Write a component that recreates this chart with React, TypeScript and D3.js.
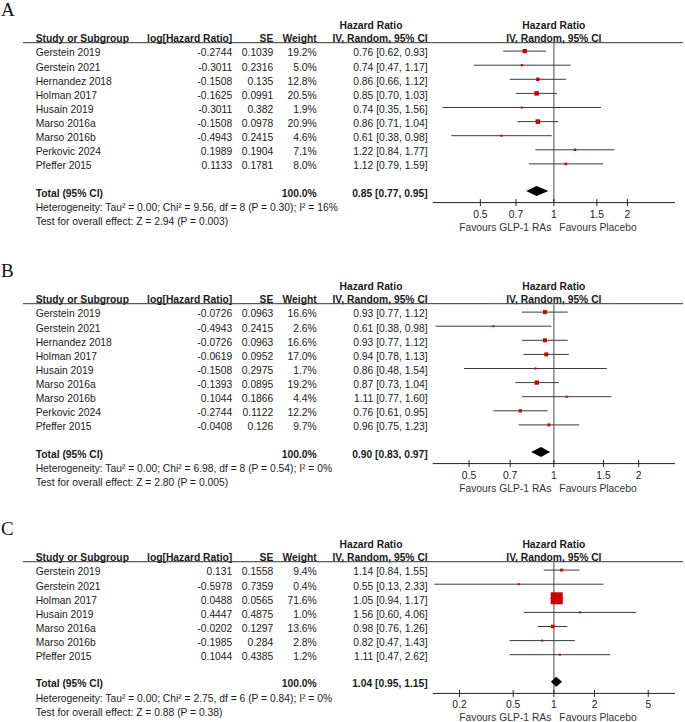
import React from "react";
import * as d3 from "d3";

// ---------- DATA ----------
const studiesA = ["Gerstein 2019", "Gerstein 2021", "Hernandez 2018", "Holman 2017", "Husain 2019", "Marso 2016a", "Marso 2016b", "Perkovic 2024", "Pfeffer 2015"];
const logHRA = [-0.2744, -0.3011, -0.1508, -0.1625, -0.3011, -0.1508, -0.4943, 0.1989, 0.1133];
const seA = [0.1039, 0.2316, 0.135, 0.0991, 0.382, 0.0978, 0.2415, 0.1904, 0.1781];
const weightA = [19.2, 5.0, 12.8, 20.5, 1.9, 20.9, 4.6, 7.1, 8.0];
const hrA = [0.76, 0.74, 0.86, 0.85, 0.74, 0.86, 0.61, 1.22, 1.12];
const loA = [0.62, 0.47, 0.66, 0.70, 0.35, 0.71, 0.38, 0.84, 0.79];
const hiA = [0.93, 1.17, 1.12, 1.03, 1.56, 1.04, 0.98, 1.77, 1.59];
const totalA = [0.85, 0.77, 0.95];
const hetA = "Heterogeneity: Tau² = 0.00; Chi² = 9.56, df = 8 (P = 0.30); I² = 16%";
const testA = "Test for overall effect: Z = 2.94 (P = 0.003)";
const ticksA = [0.5, 0.7, 1, 1.5, 2];
const domainA = [0.319, 3.135];

const studiesB = ["Gerstein 2019", "Gerstein 2021", "Hernandez 2018", "Holman 2017", "Husain 2019", "Marso 2016a", "Marso 2016b", "Perkovic 2024", "Pfeffer 2015"];
const logHRB = [-0.0726, -0.4943, -0.0726, -0.0619, -0.1508, -0.1393, 0.1044, -0.2744, -0.0408];
const seB = [0.0963, 0.2415, 0.0963, 0.0952, 0.2975, 0.0895, 0.1866, 0.1122, 0.126];
const weightB = [16.6, 2.6, 16.6, 17.0, 1.7, 19.2, 4.4, 12.2, 9.7];
const hrB = [0.93, 0.61, 0.93, 0.94, 0.86, 0.87, 1.11, 0.76, 0.96];
const loB = [0.77, 0.38, 0.77, 0.78, 0.48, 0.73, 0.77, 0.61, 0.75];
const hiB = [1.12, 0.98, 1.12, 1.13, 1.54, 1.04, 1.60, 0.95, 1.23];
const totalB = [0.90, 0.83, 0.97];
const hetB = "Heterogeneity: Tau² = 0.00; Chi² = 6.98, df = 8 (P = 0.54); I² = 0%";
const testB = "Test for overall effect: Z = 2.80 (P = 0.005)";
const ticksB = [0.5, 0.7, 1, 1.5, 2];
const domainB = [0.3716, 2.691];

const studiesC = ["Gerstein 2019", "Gerstein 2021", "Holman 2017", "Husain 2019", "Marso 2016a", "Marso 2016b", "Pfeffer 2015"];
const logHRC = [0.131, -0.5978, 0.0488, 0.4447, -0.0202, -0.1985, 0.1044];
const seC = [0.1558, 0.7359, 0.0565, 0.4875, 0.1297, 0.284, 0.4385];
const weightC = [9.4, 0.4, 71.6, 1.0, 13.6, 2.8, 1.2];
const hrC = [1.14, 0.55, 1.05, 1.56, 0.98, 0.82, 1.11];
const loC = [0.84, 0.13, 0.94, 0.60, 0.76, 0.47, 0.47];
const hiC = [1.55, 2.33, 1.17, 4.06, 1.26, 1.43, 2.62];
const totalC = [1.04, 0.95, 1.15];
const hetC = "Heterogeneity: Tau² = 0.00; Chi² = 2.75, df = 6 (P = 0.84); I² = 0%";
const testC = "Test for overall effect: Z = 0.88 (P = 0.38)";
const ticksC = [0.2, 0.5, 1, 2, 5];
const domainC = [0.1267, 7.89];

const panelLabels = ["A", "B", "C"];

// ---------- LAYOUT ----------
const W = 685;
const H = 722;
const FONT = "'Liberation Sans', Arial, Helvetica, sans-serif";
const FS = 10.3;
const TXT = "#1a1a1a";
const panelTops = [0, 261, 519];

const xStudy = 35.7;
const xLog = 232.3;
const xSE = 273.3;
const xWeight = 316.7;
const xCI = 427.7;
const xHRHead = 371;
const plotLeft = 432.7;
const plotRight = 675;

const panels = [
  { label: panelLabels[0], studies: studiesA, logHR: logHRA, se: seA, weight: weightA, hr: hrA, lo: loA, hi: hiA, total: totalA, het: hetA, test: testA, ticks: ticksA, domain: domainA },
  { label: panelLabels[1], studies: studiesB, logHR: logHRB, se: seB, weight: weightB, hr: hrB, lo: loB, hi: hiB, total: totalB, het: hetB, test: testB, ticks: ticksB, domain: domainB },
  { label: panelLabels[2], studies: studiesC, logHR: logHRC, se: seC, weight: weightC, hr: hrC, lo: loC, hi: hiC, total: totalC, het: hetC, test: testC, ticks: ticksC, domain: domainC },
];

function Panel({ p, top }: { p: any; top: number }) {
  const x = d3.scaleLog().domain(p.domain).range([plotLeft, plotRight]).clamp(true);
  const headLineY = top + 42.7;
  const rowC = (i: number) => top + 52.7 + 14.1 * i;
  const n = p.studies.length;
  const totalC = rowC(n - 1) + 27.3;
  const axisY = totalC + 9.8;
  const x1 = x(1);
  const base = (c: number) => c + 3.7;
  const sq = (w: number) => Math.max(2, 1.5 + 0.147 * w);
  const tf = (v: number) => v.toFixed(2);
  const ciText = (h: number, l: number, u: number) => `${tf(h)} [${tf(l)}, ${tf(u)}]`;
  const [th, tl, tu] = p.total;
  const dy = totalC - 1.8;

  return (
    <g>
      <text x={1} y={top + 15.5} fontFamily="'Liberation Serif', 'Times New Roman', serif" fontSize={19} fill="#111">{p.label}</text>
      {/* top headers */}
      <text x={xHRHead} y={top + 28.7} textAnchor="middle" fontWeight="bold" fontSize={FS} fill={TXT}>Hazard Ratio</text>
      <text x={x1} y={top + 28.7} textAnchor="middle" fontWeight="bold" fontSize={FS} fill={TXT}>Hazard Ratio</text>
      <g fontWeight="bold" fontSize={FS} fill={TXT}>
        <text x={xStudy} y={top + 41.8}>Study or Subgroup</text>
        <text x={xLog} y={top + 41.8} textAnchor="end">log[Hazard Ratio]</text>
        <text x={xSE} y={top + 41.8} textAnchor="end">SE</text>
        <text x={xWeight} y={top + 41.8} textAnchor="end">Weight</text>
        <text x={xCI} y={top + 41.8} textAnchor="end">IV, Random, 95% CI</text>
        <text x={x1} y={top + 41.8} textAnchor="middle">IV, Random, 95% CI</text>
      </g>
      <line x1={23} x2={683} y1={headLineY} y2={headLineY} stroke="#333" strokeWidth={1} />
      {/* reference line */}
      <line x1={x1} x2={x1} y1={headLineY} y2={axisY} stroke="#8e8e8e" strokeWidth={1.6} />
      {/* rows */}
      {p.studies.map((s: string, i: number) => {
        const c = rowC(i);
        const my = c - 1.6;
        const size = sq(p.weight[i]);
        return (
          <g key={s + i}>
            <g fontSize={FS} fill={TXT}>
              <text x={xStudy} y={base(c)}>{s}</text>
              <text x={xLog} y={base(c)} textAnchor="end">{String(p.logHR[i])}</text>
              <text x={xSE} y={base(c)} textAnchor="end">{String(p.se[i])}</text>
              <text x={xWeight} y={base(c)} textAnchor="end">{p.weight[i].toFixed(1) + "%"}</text>
              <text x={xCI} y={base(c)} textAnchor="end">{ciText(p.hr[i], p.lo[i], p.hi[i])}</text>
            </g>
            <line x1={x(p.lo[i])} x2={x(p.hi[i])} y1={my} y2={my} stroke="#3a3a3a" strokeWidth={1} />
            <rect x={x(Math.exp(p.logHR[i])) - size / 2} y={my - size / 2} width={size} height={size} fill="#cc0000" />
          </g>
        );
      })}
      {/* total */}
      <g fontSize={FS} fill={TXT} fontWeight="bold">
        <text x={xStudy} y={base(totalC)}>Total (95% CI)</text>
        <text x={xWeight} y={base(totalC)} textAnchor="end">100.0%</text>
        <text x={xCI} y={base(totalC)} textAnchor="end">{ciText(th, tl, tu)}</text>
      </g>
      <polygon
        points={`${x(tl)},${dy} ${x(th)},${dy - 5} ${x(tu)},${dy} ${x(th)},${dy + 5}`}
        fill="#000"
      />
      <g fontSize={FS} fill={TXT}>
        <text x={xStudy} y={base(totalC + 14.4)}>{p.het}</text>
        <text x={xStudy} y={base(totalC + 28.7)}>{p.test}</text>
      </g>
      {/* axis */}
      <line x1={plotLeft} x2={plotRight} y1={axisY} y2={axisY} stroke="#222" strokeWidth={1} />
      {p.ticks.map((t: number) => (
        <g key={t}>
          <line x1={x(t)} x2={x(t)} y1={axisY - 3.5} y2={axisY + 3.5} stroke="#222" strokeWidth={1} />
          <text x={x(t)} y={axisY + 15} textAnchor="middle" fontSize={FS} fill={TXT}>{String(t)}</text>
        </g>
      ))}
      <text x={x1 - 2.5} y={axisY + 28} textAnchor="end" fontSize={FS} fill="#333">Favours GLP-1 RAs</text>
      <text x={x1 + 5.5} y={axisY + 28} textAnchor="start" fontSize={FS} fill="#333">Favours Placebo</text>
    </g>
  );
}

export default function App() {
  return (
    <div style={{ position: "absolute", left: 0, top: 0, width: W, height: H, background: "#fff" }}>
      <svg width={W} height={H} viewBox={`0 0 ${W} ${H}`} style={{ display: "block" }} fontFamily={FONT}>
        <rect width={W} height={H} fill="#fff" />
        {panels.map((p, k) => (
          <Panel key={p.label} p={p} top={panelTops[k]} />
        ))}
      </svg>
    </div>
  );
}
